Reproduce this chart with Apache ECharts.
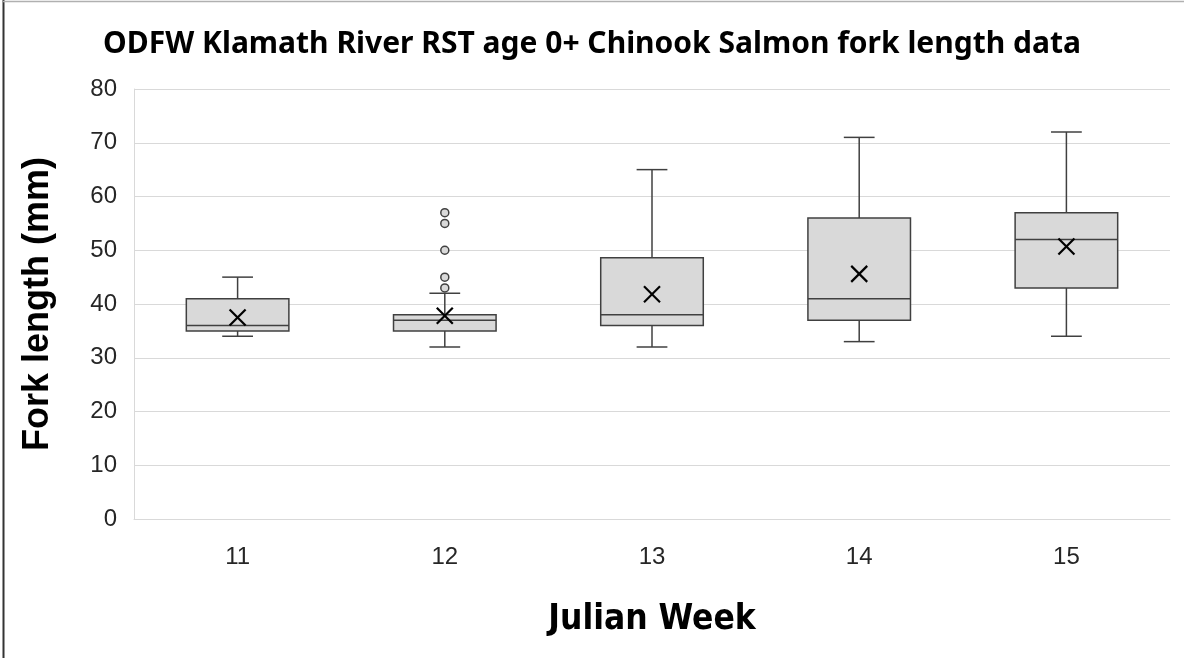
<!DOCTYPE html>
<html>
<head>
<meta charset="utf-8">
<script src="https://cdn.jsdelivr.net/npm/echarts@6/dist/echarts.min.js"></script>
<style>
  html, body { margin: 0; padding: 0; background: #fff; }
  #main { width: 1184px; height: 658px; }
</style>
</head>
<body>
<div id="main"></div>
<script>
// Julian week categories
var weeks = ['11', '12', '13', '14', '15'];
// five-number summaries: [min, q1, median, q3, max]
var boxStats = [
    [34, 35, 36, 41, 45],
    [32, 35, 37, 38, 42],
    [32, 36, 38, 48.6, 65],
    [33, 37, 41, 56, 71],
    [34, 43, 52, 57, 72]
];
// mean per week (the X marks)
var means = [37.5, 37.8, 41.8, 45.6, 50.7];
// outliers: [week index, fork length]
var outliers = [
    [1, 43], [1, 45], [1, 50], [1, 55], [1, 57]
];
var yTicks = { min: 0, max: 80, interval: 10 };

var boxData = boxStats.map(function (s, i) { return [i].concat(s); });
var meanData = means.map(function (m, i) { return [i, m]; });

var lineColor = '#404040';
var fillColor = '#d9d9d9';
var labelFont = 'Liberation Sans';

function renderBox(params, api) {
    var x = api.value(0);
    var pMin = api.coord([x, api.value(1)]);
    var pQ1 = api.coord([x, api.value(2)]);
    var pMed = api.coord([x, api.value(3)]);
    var pQ3 = api.coord([x, api.value(4)]);
    var pMax = api.coord([x, api.value(5)]);
    var bw = api.size([1, 0])[0] * 0.495;
    var cw = bw * 0.3;
    var cx = pMed[0];
    var st = { stroke: lineColor, lineWidth: 1.5 };
    return {
        type: 'group',
        children: [
            { type: 'line', shape: { x1: cx, y1: pMax[1], x2: cx, y2: pQ3[1] }, style: st },
            { type: 'line', shape: { x1: cx, y1: pQ1[1], x2: cx, y2: pMin[1] }, style: st },
            { type: 'line', shape: { x1: cx - cw / 2, y1: pMax[1], x2: cx + cw / 2, y2: pMax[1] }, style: st },
            { type: 'line', shape: { x1: cx - cw / 2, y1: pMin[1], x2: cx + cw / 2, y2: pMin[1] }, style: st },
            { type: 'rect', shape: { x: cx - bw / 2, y: pQ3[1], width: bw, height: pQ1[1] - pQ3[1] },
              style: { fill: fillColor, stroke: lineColor, lineWidth: 1.5 } },
            { type: 'line', shape: { x1: cx - bw / 2, y1: pMed[1], x2: cx + bw / 2, y2: pMed[1] }, style: st }
        ]
    };
}

function renderMean(params, api) {
    var p = api.coord([api.value(0), api.value(1)]);
    var h = 8;
    var st = { stroke: '#000', lineWidth: 2.2 };
    return {
        type: 'group',
        children: [
            { type: 'line', shape: { x1: p[0] - h, y1: p[1] - h, x2: p[0] + h, y2: p[1] + h }, style: st },
            { type: 'line', shape: { x1: p[0] - h, y1: p[1] + h, x2: p[0] + h, y2: p[1] - h }, style: st }
        ]
    };
}

var chart = echarts.init(document.getElementById('main'));
var option = {
    animation: false,
    backgroundColor: '#fff',
    textStyle: { fontFamily: labelFont },
    title: {
        text: 'ODFW Klamath River RST age 0+ Chinook Salmon fork length data',
        left: 'center',
        top: 24,
        textStyle: { fontSize: 30, fontWeight: 'bold', color: '#000', fontFamily: 'Noto Sans' }
    },
    graphic: [
        // outer chart-area frame: dark on the left, light on top
        { type: 'line', shape: { x1: 3.5, y1: 0, x2: 3.5, y2: 658 },
          style: { stroke: '#333', lineWidth: 2 }, silent: true },
        { type: 'line', shape: { x1: 3, y1: 1.5, x2: 1184, y2: 1.5 },
          style: { stroke: '#b0b0b0', lineWidth: 1.5 }, silent: true }
    ],
    grid: { left: 134, right: 14, top: 89, bottom: 139 },
    xAxis: {
        type: 'category',
        data: weeks,
        name: 'Julian Week',
        nameLocation: 'middle',
        nameGap: 83,
        nameTextStyle: { fontSize: 35, fontWeight: 'bold', color: '#000', fontFamily: 'DejaVu Sans Condensed' },
        axisLine: { lineStyle: { color: '#d9d9d9', width: 1 } },
        axisTick: { show: false },
        axisLabel: { fontSize: 24, color: '#262626', margin: 26 },
        splitLine: { show: false }
    },
    yAxis: {
        type: 'value',
        min: yTicks.min,
        max: yTicks.max,
        interval: yTicks.interval,
        name: 'Fork length (mm)',
        nameLocation: 'middle',
        nameGap: 78,
        nameTextStyle: { fontSize: 36, fontWeight: 'bold', color: '#000' },
        axisLine: { show: true, lineStyle: { color: '#d9d9d9', width: 1 } },
        axisTick: { show: false },
        axisLabel: { fontSize: 24, color: '#262626', margin: 17 },
        splitLine: { lineStyle: { color: '#d9d9d9', width: 1 } }
    },
    series: [
        {
            type: 'custom',
            renderItem: renderBox,
            data: boxData,
            encode: { x: 0, y: [1, 2, 3, 4, 5] },
            z: 2
        },
        {
            type: 'scatter',
            data: outliers,
            symbol: 'circle',
            symbolSize: 8,
            itemStyle: { color: fillColor, borderColor: lineColor, borderWidth: 1.5, opacity: 1 },
            z: 3
        },
        {
            type: 'custom',
            renderItem: renderMean,
            data: meanData,
            encode: { x: 0, y: 1 },
            z: 4
        }
    ]
};
chart.setOption(option);
</script>
</body>
</html>
